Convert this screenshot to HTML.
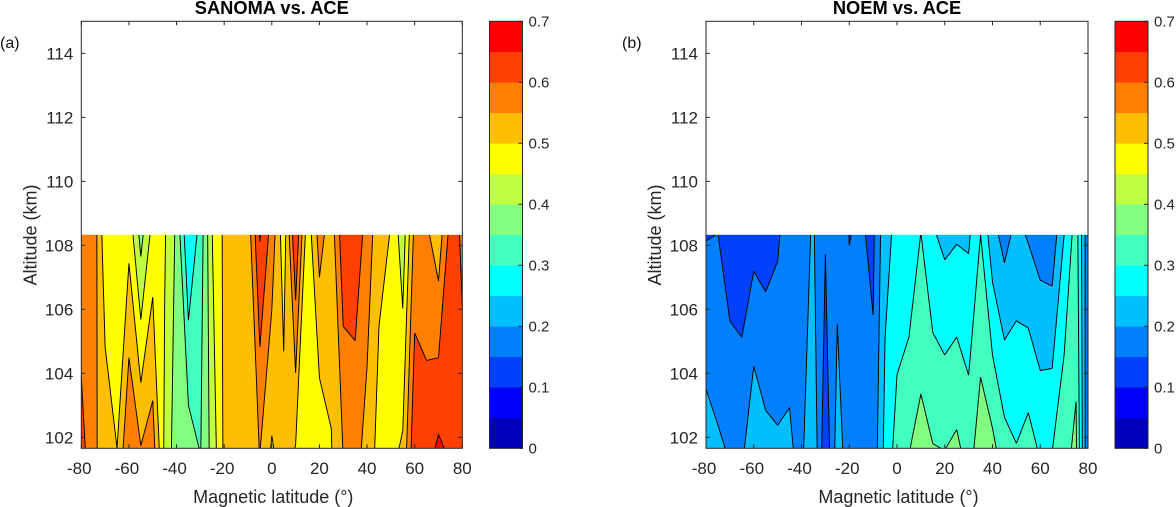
<!DOCTYPE html>
<html>
<head>
<meta charset="utf-8">
<title>SANOMA and NOEM vs. ACE</title>
<style>
html,body{margin:0;padding:0;background:#fff;width:1176px;height:507px;overflow:hidden}
svg{display:block}
text{font-family:"Liberation Sans",Arial,sans-serif;fill:#262626}
</style>
</head>
<body>
<svg id="figure" xmlns="http://www.w3.org/2000/svg" width="1176" height="507" viewBox="0 0 1176 507"></svg>
<script>
const latitudes = [-80,-75,-70,-65,-60,-55,-50,-45,-40,-35,-30,-25,-20,-15,-10,-5,0,5,10,15,20,25,30,35,40,45,50,55,60,65,70,75,80];
const altitudeTop = 108.32;
const altitudeBottom = 101.66;
const sanomaTop = [.56,.587,.467,.46,.485,.383,.47,.455,.39,.25,.32,.45,.51,.51,.52,.653,.58,.47,.645,.467,.571,.52,.636,.627,.584,.512,.4985,.42,.566,.56,.52,.62,.594];
const sanomaBottom = [.62,.56,.53,.5,.598,.552,.573,.44,.37,.375,.347,.419,.51,.52,.52,.552,.495,.525,.498,.46,.465,.498,.552,.5725,.529,.484,.485,.507,.64,.628,.659,.64,.612];
const noemTop = [.148,.1505,.119,.115,.131,.126,.142,.183,.187,.204,.154,.182,.149,.155,.141,.236,.262,.256,.301,.256,.237,.245,.2424,.30,.218,.182,.215,.195,.175,.169,.25,.325,.16];
const noemBottom = [.22,.206,.196,.188,.243,.216,.207,.204,.191,.24,.11,.225,.17,.175,.165,.265,.32,.348,.3667,.352,.349,.36,.33,.375,.3636,.32,.302,.321,.293,.2985,.339,.357,.152];
const contourLevels = [0,.05,.1,.15,.2,.25,.3,.35,.4,.45,.5,.55,.6,.65,.7];
const bandColors = ['#0000bf','#0000ff','#0040ff','#0080ff','#00bfff','#00ffff','#40ffbf','#80ff80','#bfff40','#ffff00','#ffbf00','#ff8000','#ff4000','#ff0000'];
const xTicks = [-80,-60,-40,-20,0,20,40,60,80];
const yTicks = [102,104,106,108,110,112,114];
const colorbarTicks = [0,.1,.2,.3,.4,.5,.6,.7];

const NS = 'http://www.w3.org/2000/svg';
const svg = document.getElementById('figure');
const INK = '#262626';

function mk(parent, tag, attrs, text) {
  const el = document.createElementNS(NS, tag);
  for (const k in attrs) el.setAttribute(k, attrs[k]);
  if (text !== undefined) el.textContent = text;
  parent.appendChild(el);
  return el;
}

function edgeCrossings(a, b, va, vb, lo, hi) {
  // points along a->b at the band limits, in travel order
  const out = [];
  const ts = [];
  [lo, hi].forEach(function (L) {
    if ((va < L) !== (vb < L)) ts.push((L - va) / (vb - va));
  });
  ts.sort(function (p, q) { return p - q; });
  ts.forEach(function (t) {
    out.push([a[0] + (b[0] - a[0]) * t, a[1] + (b[1] - a[1]) * t]);
  });
  return out;
}

function fmt(p) { return p[0].toFixed(2) + ' ' + p[1].toFixed(2); }

function drawPanel(cfg) {
  const g = mk(svg, 'g', {});
  
  
  const L = cfg.left, R = cfg.right, T = 21.3, B = 448.3;
  const xScale = function (lat) { return L + (lat + 80) * (R - L) / 160; };
  const yScale = function (alt) { return T + (115 - alt) * 32; };
  const cScale = function (v) { return B - v * (B - T) / 0.7; };

  mk(g, 'rect', {x: L, y: T, width: R - L, height: B - T, fill: '#fff'});

  // filled bands
  const bandPaths = bandColors.map(function () { return ''; });
  const linePaths = contourLevels.map(function () { return ''; });
  for (let i = 0; i < latitudes.length - 1; i++) {
    const c = [
      [xScale(latitudes[i]), yScale(altitudeTop)],
      [xScale(latitudes[i + 1]), yScale(altitudeTop)],
      [xScale(latitudes[i + 1]), yScale(altitudeBottom)],
      [xScale(latitudes[i]), yScale(altitudeBottom)]
    ];
    const v = [cfg.top[i], cfg.top[i + 1], cfg.bottom[i + 1], cfg.bottom[i]];
    for (let b = 0; b < bandColors.length; b++) {
      const lo = contourLevels[b], hi = contourLevels[b + 1];
      const poly = [];
      for (let e = 0; e < 4; e++) {
        const n = (e + 1) % 4;
        if (v[e] >= lo && v[e] < hi) poly.push(c[e]);
        edgeCrossings(c[e], c[n], v[e], v[n], lo, hi).forEach(function (p) { poly.push(p); });
      }
      if (poly.length > 2) bandPaths[b] += 'M' + poly.map(fmt).join('L') + 'Z';
    }
    for (let l = 1; l < contourLevels.length - 1; l++) {
      const lev = contourLevels[l];
      const pts = [null, null, null, null];
      let count = 0;
      for (let e = 0; e < 4; e++) {
        const n = (e + 1) % 4;
        if ((v[e] < lev) !== (v[n] < lev)) {
          const t = (lev - v[e]) / (v[n] - v[e]);
          pts[e] = [c[e][0] + (c[n][0] - c[e][0]) * t, c[e][1] + (c[n][1] - c[e][1]) * t];
          count++;
        }
      }
      if (count === 2) {
        const two = pts.filter(function (p) { return p; });
        linePaths[l] += 'M' + fmt(two[0]) + 'L' + fmt(two[1]);
      } else if (count === 4) {
        const centre = (v[0] + v[1] + v[2] + v[3]) / 4;
        const aroundFirst = (v[0] < lev) === (centre >= lev);
        if (aroundFirst) {
          linePaths[l] += 'M' + fmt(pts[3]) + 'L' + fmt(pts[0]) + 'M' + fmt(pts[1]) + 'L' + fmt(pts[2]);
        } else {
          linePaths[l] += 'M' + fmt(pts[0]) + 'L' + fmt(pts[1]) + 'M' + fmt(pts[2]) + 'L' + fmt(pts[3]);
        }
      }
    }
  }
  bandPaths.forEach(function (d, b) {
    if (!d) return;
    const p = mk(g, 'path', {d: d, fill: bandColors[b], stroke: bandColors[b], 'stroke-width': 0.5});
    
    
  });
  linePaths.forEach(function (d, l) {
    if (!d) return;
    const p = mk(g, 'path', {d: d, fill: 'none', stroke: '#000', 'stroke-width': 0.95, 'stroke-linejoin': 'miter'});
    
    
  });

  // axes box and ticks
  const box = mk(g, 'rect', {x: L, y: T, width: R - L, height: B - T, fill: 'none', stroke: INK, 'stroke-width': 1});
  
  

  xTicks.forEach(function (t) {
    const x = xScale(t);
    mk(g, 'line', {x1: x, x2: x, y1: B, y2: B - 4, stroke: INK, 'stroke-width': 1});
    mk(g, 'line', {x1: x, x2: x, y1: T, y2: T + 4, stroke: INK, 'stroke-width': 1});
    const lab = mk(g, 'text', {x: x - (t < 0 ? 2 : 0), y: 474, 'font-size': 17, 'text-anchor': 'middle'}, String(t));
    
    
  });
  yTicks.forEach(function (t) {
    const y = yScale(t);
    mk(g, 'line', {x1: L, x2: L + 4, y1: y, y2: y, stroke: INK, 'stroke-width': 1});
    mk(g, 'line', {x1: R, x2: R - 4, y1: y, y2: y, stroke: INK, 'stroke-width': 1});
    const lab = mk(g, 'text', {x: L - 8, y: y + 6, 'font-size': 17, 'text-anchor': 'end'}, String(t));
    
    
  });

  const title = mk(g, 'text', {x: (L + R) / 2, y: 14, 'font-size': 18.3, 'font-weight': 'bold', 'text-anchor': 'middle', style: 'fill:#000'}, cfg.title);
  
  

  const xl = mk(g, 'text', {x: (L + R) / 2 + 1.5, y: 503, 'font-size': 18, 'text-anchor': 'middle'}, 'Magnetic latitude (\u00B0)');
  
  

  const yl = mk(g, 'text', {x: 0, y: 0, 'font-size': 18, 'text-anchor': 'middle', transform: 'translate(' + (L - 45) + ' 235) rotate(-90)'}, 'Altitude (km)');
  
  

  const tag = mk(g, 'text', {x: cfg.tagX, y: 48, 'font-size': 16, style: 'fill:#111'}, cfg.tag);
  
  

  // colorbar
  const cb = mk(g, 'g', {});
  
  
  bandColors.forEach(function (col, b) {
    const y1 = cScale(contourLevels[b + 1]), y0 = cScale(contourLevels[b]);
    const r = mk(cb, 'rect', {x: cfg.cbLeft, y: y1, width: cfg.cbWidth, height: y0 - y1 + 0.3, fill: col});
    
    
  });
  mk(cb, 'rect', {x: cfg.cbLeft, y: T, width: cfg.cbWidth, height: B - T, fill: 'none', stroke: INK, 'stroke-width': 1});
  colorbarTicks.forEach(function (t) {
    const y = cScale(t);
    mk(cb, 'line', {x1: cfg.cbLeft + cfg.cbWidth, x2: cfg.cbLeft + cfg.cbWidth - 4, y1: y, y2: y, stroke: INK, 'stroke-width': 1});
    const lab = mk(cb, 'text', {x: cfg.cbLeft + cfg.cbWidth + 6, y: y + 5.4, 'font-size': 15}, t === 0 ? '0' : t.toFixed(1));
    
    
  });
}

drawPanel({name: 'sanoma', title: 'SANOMA vs. ACE', tag: '(a)', tagX: 0, left: 81.3, right: 462.3, cbLeft: 489.5, cbWidth: 33, top: sanomaTop, bottom: sanomaBottom});
drawPanel({name: 'noem', title: 'NOEM vs. ACE', tag: '(b)', tagX: 622, left: 706, right: 1088, cbLeft: 1115, cbWidth: 33, top: noemTop, bottom: noemBottom});
</script>
</body>
</html>
